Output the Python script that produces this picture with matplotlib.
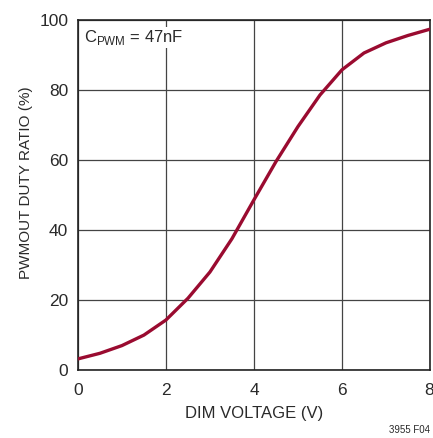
import matplotlib
matplotlib.use("Agg")
import matplotlib.pyplot as plt
import matplotlib.transforms as mtransforms

# curve
dim_voltage = [0.0, 0.5, 1.0, 1.5, 2.0, 2.5, 3.0, 3.5, 4.0, 4.5, 5.0, 5.5, 6.0, 6.5, 7.0, 7.5, 8.0]
duty_ratio = [3.2, 4.8, 7.0, 10.0, 14.3, 20.5, 28.0, 37.5, 48.6, 59.5, 69.5, 78.5, 85.7, 90.5, 93.4, 95.5, 97.3]

x_ticks = [0, 2, 4, 6, 8]
y_ticks = [0, 20, 40, 60, 80, 100]

plt.rcParams["font.family"] = ["Liberation Sans", "DejaVu Sans"]

CURVE = "#9a0b30"
GRID = "#444444"
TEXT = "#2a2a2a"

fig = plt.figure(figsize=(4.33, 4.38), dpi=100)
ax = fig.add_axes([0.180, 0.155, 0.813, 0.800])

ax.plot(dim_voltage, duty_ratio, color=CURVE, linewidth=2.4, zorder=3)

ax.set_xlim(0, 8)
ax.set_ylim(0, 100)
ax.set_xticks(x_ticks)
ax.set_yticks(y_ticks)
ax.grid(True, color=GRID, linewidth=0.9)
ax.tick_params(length=0, labelsize=12.5, colors=TEXT)
ax.tick_params(axis="x", pad=9)
ax.tick_params(axis="y", pad=7)
for s in ax.spines.values():
    s.set_color("#222222")
    s.set_linewidth(1.2)

# keep the last x label inside the figure
last = ax.get_xticklabels()[-1]
last.set_horizontalalignment("right")
last.set_transform(last.get_transform() + mtransforms.ScaledTranslation(4 / 100, 0, fig.dpi_scale_trans))

ax.set_xlabel("DIM VOLTAGE (V)", fontsize=12, color=TEXT, labelpad=6)
ax.set_ylabel("PWMOUT DUTY RATIO (%)", fontsize=11, color=TEXT)
ax.yaxis.set_label_coords(-0.128, 0.534)

ax.text(0.14, 94.9, r"C$_{\mathregular{PWM}}$ = 47nF", fontsize=12, color=TEXT,
        ha="left", va="center", zorder=4,
        bbox=dict(facecolor="white", edgecolor="none", pad=1.0))

fig.text(0.993, 0.006, "3955 F04", fontsize=7, color=TEXT, ha="right", va="bottom")

fig.savefig("out.png", dpi=100)
